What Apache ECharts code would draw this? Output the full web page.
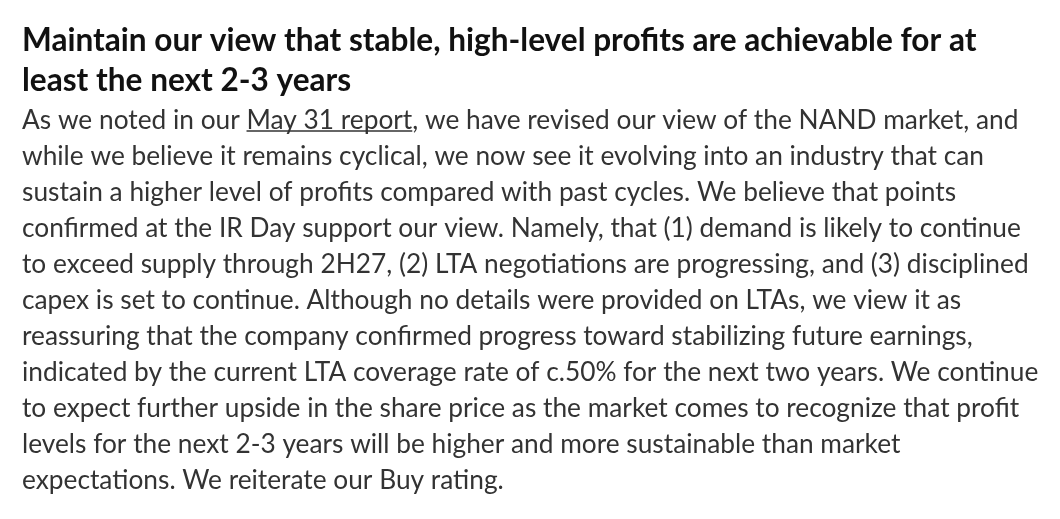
<!DOCTYPE html>
<html>
<head>
<meta charset="utf-8">
<script src="https://cdn.jsdelivr.net/npm/echarts@6/dist/echarts.min.js"></script>
<style>
html, body { margin: 0; padding: 0; background: #fff; }
#main { width: 1060px; height: 519px; }
</style>
</head>
<body>
<div id="main"></div>
<script>
var headingLines = [
    'Maintain our view that stable, high-level profits are achievable for at',
    'least the next 2-3 years'
];
var bodyLines = [
    'As we noted in our May 31 report, we have revised our view of the NAND market, and',
    'while we believe it remains cyclical, we now see it evolving into an industry that can',
    'sustain a higher level of profits compared with past cycles. We believe that points',
    'confirmed at the IR Day support our view. Namely, that (1) demand is likely to continue',
    'to exceed supply through 2H27, (2) LTA negotiations are progressing, and (3) disciplined',
    'capex is set to continue. Although no details were provided on LTAs, we view it as',
    'reassuring that the company confirmed progress toward stabilizing future earnings,',
    'indicated by the current LTA coverage rate of c.50% for the next two years. We continue',
    'to expect further upside in the share price as the market comes to recognize that profit',
    'levels for the next 2-3 years will be higher and more sustainable than market',
    'expectations. We reiterate our Buy rating.'
];
var linkText = 'May 31 report';

var chartDom = document.getElementById('main');
var myChart = echarts.init(chartDom);
var option;

var FONT = 'Lato';
var left = 22;
var ctx = document.createElement('canvas').getContext('2d');

// fit font size so that the widest line spans like in the picture
function fitSize(weight, text, target) {
    ctx.font = weight + ' 100px ' + FONT;
    return 100 * target / ctx.measureText(text).width;
}
function textWidth(weight, size, text) {
    ctx.font = weight + ' ' + size + 'px ' + FONT;
    return ctx.measureText(text).width;
}

var headSize = fitSize('bold', headingLines[0], 955);
var bodySize = fitSize('normal', bodyLines[4], 1007);

var elements = [];
headingLines.forEach(function (t, i) {
    elements.push({
        type: 'text',
        x: left,
        y: 57 + 40 * i,
        style: {
            text: t,
            fill: '#111',
            font: 'bold ' + headSize + 'px ' + FONT,
            verticalAlign: 'bottom'
        }
    });
});
bodyLines.forEach(function (t, i) {
    var base = 128 + 36 * i;
    elements.push({
        type: 'text',
        x: left,
        y: base + 6,
        style: {
            text: t,
            fill: '#333',
            font: 'normal ' + bodySize + 'px ' + FONT,
            verticalAlign: 'bottom'
        }
    });
    // underline for the linked report
    var k = t.indexOf(linkText);
    if (k >= 0) {
        var x0 = left + textWidth('normal', bodySize, t.slice(0, k));
        var w = textWidth('normal', bodySize, linkText);
        elements.push({
            type: 'line',
            shape: { x1: x0, y1: base + 3, x2: x0 + w, y2: base + 3 },
            style: { stroke: '#333', lineWidth: 1.3 }
        });
    }
});

option = {
    backgroundColor: '#fff',
    graphic: { elements: elements }
};

option && myChart.setOption(option);
</script>
</body>
</html>
